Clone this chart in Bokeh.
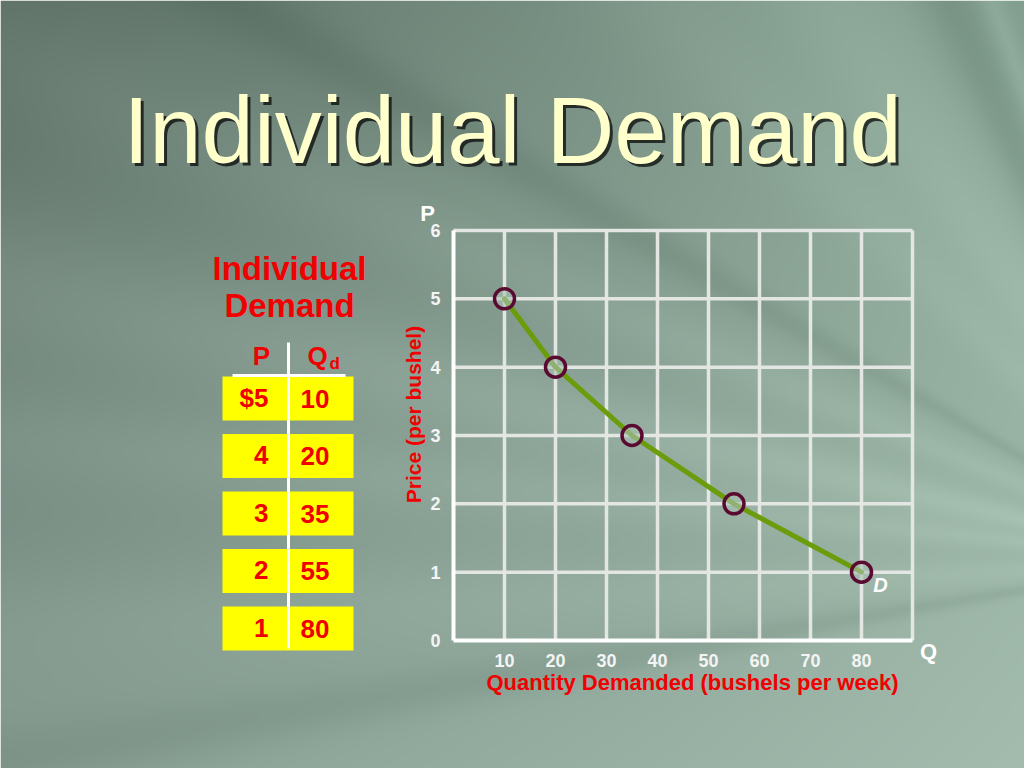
import numpy as np
from bokeh.plotting import figure
from bokeh.models import Range1d, LinearAxis, FixedTicker
from bokeh.core.properties import value
from bokeh.embed import file_html
from bokeh.resources import INLINE

# ---------------- data ----------------
title_text = "Individual Demand"
table_title = ["Individual", "Demand"]
price = [5, 4, 3, 2, 1]
qty = [10, 20, 35, 55, 80]
price_labels = ["$5", "4", "3", "2", "1"]
qty_labels = ["10", "20", "35", "55", "80"]
x_ticks = [10, 20, 30, 40, 50, 60, 70, 80]
y_ticks = [0, 1, 2, 3, 4, 5, 6]
x_grid = [10, 20, 30, 40, 50, 60, 70, 80, 90]
y_grid = [1, 2, 3, 4, 5, 6]
Q_MAX, P_MAX = 90, 6
x_title = "Quantity Demanded (bushels per week)"
y_title = "Price (per bushel)"

# ---------------- layout (page pixels) ----------------
W, H = 1024, 768
OX, OY = 0, 0
QX0, QX1 = 453, 912      # Q = 0 .. Q_MAX
PY0, PY1 = 640, 230      # P = 0 .. P_MAX
kx = (QX1 - QX0) / Q_MAX
ky = (PY0 - PY1) / P_MAX
x_start = (OX - QX0) / kx
x_end = (OX + W - QX0) / kx
y_top = (PY0 - OY) / ky
y_bot = (PY0 - (OY + H)) / ky


def sx(X):
    return (X - QX0) / kx


def sy(Y):
    return (PY0 - Y) / ky


FONT = value("Liberation Sans")
RED = "#f00000"

p = figure(width=W, height=H, x_range=Range1d(x_start, x_end), y_range=Range1d(y_bot, y_top),
           x_axis_type=None, y_axis_type=None, toolbar_location=None, output_backend="svg",
           min_border=0, outline_line_color=None)
if p.title is not None:
    p.title.visible = False

# ---------------- background (gradient + soft rays) ----------------
NX, NY = 512, 384
gx = (np.arange(NX) + 0.5) / NX * W + OX
gy = (np.arange(NY) + 0.5) / NY * H + OY
X, Y = np.meshgrid(gx, gy)
u = X / 1024.0
v = Y / 768.0
TL = np.array([93, 112, 102.0])
TR = np.array([140, 168, 152.0])
BL = np.array([136, 158, 147.0])
BR = np.array([163, 188, 174.0])
col = ((1 - u)[..., None] * (1 - v)[..., None] * TL + u[..., None] * (1 - v)[..., None] * TR
       + (1 - u)[..., None] * v[..., None] * BL + u[..., None] * v[..., None] * BR)
phi = np.degrees(np.arctan2(560 - Y, 1200 - X))
bands = [(66, 2.0, -16), (69.5, 0.8, 8), (72.5, 1.8, -9), (56, 4.0, 9), (46, 3.0, 6),
         (30, 1.2, -10), (23, 2.0, 7), (13, 2.5, 11), (6, 1.8, 8), (-3, 2.0, 5), (-9.5, 1.2, -10)]
delta = np.zeros_like(phi)
for c, w, a in bands:
    delta += a * np.exp(-0.5 * ((phi - c) / w) ** 2)
col = col + delta[..., None]
col = np.clip(col, 0, 255).astype(np.uint8)
rgba = np.empty((NY, NX, 4), dtype=np.uint8)
rgba[..., :3] = col
rgba[..., 3] = 255
img = rgba.view(np.uint32).reshape(NY, NX)[::-1]
p.image_rgba(image=[img], x=x_start, y=y_bot, dw=x_end - x_start, dh=y_top - y_bot)

# ---------------- slide title ----------------
p.text(x=[sx(512 + 3)], y=[sy(130 + 3)], text=[title_text], text_font=FONT, text_font_size="94px",
       text_color="#000000", text_alpha=0.7, text_align="center", text_baseline="alphabetic")
p.text(x=[sx(512)], y=[sy(130)], text=[title_text], text_font=FONT, text_font_size="94px",
       text_color="#ffffcc", text_align="center", text_baseline="alphabetic")

# ---------------- table ----------------
p.text(x=[sx(289)] * 2, y=[sy(268), sy(305)], text=table_title, text_font=FONT, text_font_size="33px",
       text_font_style="bold", text_color=RED, text_align="center", text_baseline="middle")

row_tops = [376 + i * 57.5 for i in range(len(price))]
p.quad(left=sx(222), right=sx(353), top=[sy(t) for t in row_tops], bottom=[sy(t + 44) for t in row_tops],
       fill_color="#ffff00", line_color=None)

p.segment(x0=[sx(288), sx(232)], y0=[sy(342), sy(375)], x1=[sx(288), sx(345)], y1=[sy(648), sy(375)],
          line_color="#ffffff", line_width=3)

p.text(x=[sx(261)], y=[sy(355)], text=["P"], text_font=FONT, text_font_size="26px",
       text_font_style="bold", text_color=RED, text_align="center", text_baseline="middle")
p.text(x=[sx(307)], y=[sy(355)], text=["Q"], text_font=FONT, text_font_size="26px",
       text_font_style="bold", text_color=RED, text_align="left", text_baseline="middle")
p.text(x=[sx(329)], y=[sy(363)], text=["d"], text_font=FONT, text_font_size="17px",
       text_font_style="bold", text_color=RED, text_align="left", text_baseline="middle")

p.text(x=[sx(268)] * len(price), y=[sy(t + 21) for t in row_tops], text=price_labels, text_font=FONT,
       text_font_size="26px", text_font_style="bold", text_color=RED, text_align="right",
       text_baseline="middle")
p.text(x=[sx(300)] * len(qty), y=[sy(t + 22) for t in row_tops], text=qty_labels, text_font=FONT,
       text_font_size="26px", text_font_style="bold", text_color=RED, text_align="left",
       text_baseline="middle")

# ---------------- chart ----------------
GRID = "#e4e6e4"
p.segment(x0=x_grid, y0=[0] * len(x_grid), x1=x_grid, y1=[P_MAX] * len(x_grid),
          line_color=GRID, line_width=3.5)
p.segment(x0=[0] * len(y_grid), y0=y_grid, x1=[Q_MAX] * len(y_grid), y1=y_grid,
          line_color=GRID, line_width=3.5)

p.line(qty, price, line_color="#6b9c0c", line_width=5, line_cap="round", line_join="round")
p.scatter(qty, price, size=20, line_color="#5a0a30", line_width=3.5, fill_color="#a9c0b2", fill_alpha=0.6)

xaxis = LinearAxis(fixed_location=0, bounds=(0, Q_MAX), ticker=FixedTicker(ticks=x_ticks),
                   axis_line_color="#ffffff", axis_line_width=4, major_tick_line_color=None,
                   minor_tick_line_color=None)
xaxis.major_label_text_color = "#f4f4f4"
xaxis.major_label_text_font = "Liberation Sans"
xaxis.major_label_text_font_style = "bold"
xaxis.major_label_text_font_size = "18px"
xaxis.major_label_standoff = 7
p.add_layout(xaxis, "below")
yaxis = LinearAxis(fixed_location=0, bounds=(0, P_MAX), ticker=FixedTicker(ticks=y_ticks),
                   axis_line_color="#ffffff", axis_line_width=4, major_tick_line_color=None,
                   minor_tick_line_color=None)
yaxis.major_label_text_color = "#f4f4f4"
yaxis.major_label_text_font = "Liberation Sans"
yaxis.major_label_text_font_style = "bold"
yaxis.major_label_text_font_size = "18px"
yaxis.major_label_standoff = 7
p.add_layout(yaxis, "left")

p.text(x=[sx(427), sx(928)], y=[sy(213), sy(651)], text=["P", "Q"], text_font=FONT, text_font_size="22px",
       text_font_style="bold", text_color="#ffffff", text_align="center", text_baseline="middle")
p.text(x=[sx(880)], y=[sy(584)], text=["D"], text_font=FONT, text_font_size="20px",
       text_font_style="bold italic", text_color="#ffffff", text_align="center", text_baseline="middle")

p.text(x=[sx(692)], y=[sy(682)], text=[x_title], text_font=FONT, text_font_size="22px",
       text_font_style="bold", text_color=RED, text_align="center", text_baseline="middle")
p.text(x=[sx(413)], y=[sy(414)], text=[y_title], text_font=FONT, text_font_size="21px",
       text_font_style="bold", text_color=RED, text_align="center", text_baseline="middle",
       angle=np.pi / 2)

open("out.html", "w").write(file_html(p, INLINE))
